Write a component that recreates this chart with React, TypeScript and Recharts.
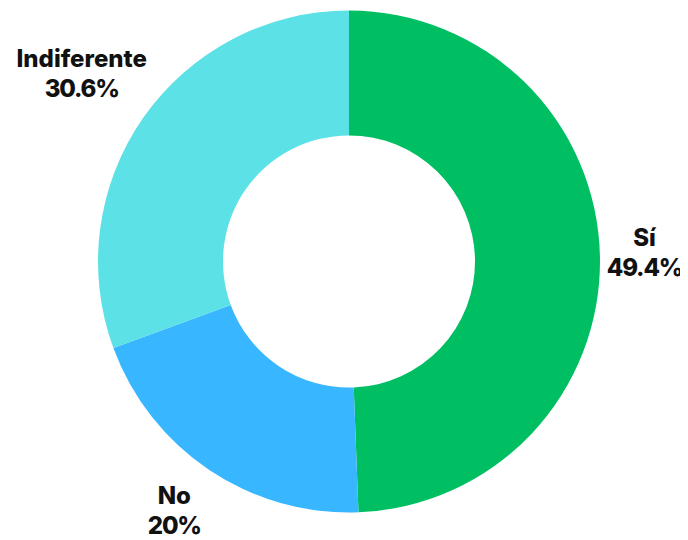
import React from "react";
import { PieChart, Pie, Cell } from "recharts";

const categories = ["Sí", "No", "Indiferente"];
const values = [49.4, 20, 30.6];
const colors = ["#00BF63", "#38B6FF", "#5CE1E6"];

const data = categories.map((name, i) => ({ name, value: values[i] }));

const FONT_SIZE = 24;
const LINE_GAP = 30;

function charW(c: string): number {
  if (/[0-9]/.test(c)) return 0.58;
  if (c === "%") return 0.8;
  if (c === ".") return 0.26;
  if (/[iIlí]/.test(c)) return 0.3;
  if (/[ftr]/.test(c)) return 0.4;
  if (/[S]/.test(c)) return 0.64;
  if (/[N]/.test(c)) return 0.74;
  return 0.61;
}
function textW(s: string): number {
  let w = 0;
  for (const c of s) w += charW(c);
  return w * FONT_SIZE;
}

const RADIAN = Math.PI / 180;

const renderLabel = (props: any) => {
  const { cx, cy, midAngle, outerRadius, name, value } = props;
  const pct = `${Number(value).toString()}%`;
  const w = Math.max(textW(name), textW(pct));
  const a = w / 2;
  const b = 29;
  const cos = Math.cos(-midAngle * RADIAN);
  const sin = Math.sin(-midAngle * RADIAN);
  const R = outerRadius + 17;
  const px = cx + R * cos;
  const py = cy + R * sin;
  const t = Math.min(
    Math.abs(cos) > 1e-6 ? a / Math.abs(cos) : Infinity,
    Math.abs(sin) > 1e-6 ? b / Math.abs(sin) : Infinity
  );
  const x = px + t * cos - 6;
  const y = py + t * sin - 3 - Math.max(0, -sin) * 5;
  return (
    <text
      x={x}
      y={y}
      textAnchor="middle"
      fill="#111"
      fontFamily="Inter, sans-serif"
      fontWeight={800}
      fontSize={FONT_SIZE}
    >
      <tspan x={x} y={y - LINE_GAP / 2} dominantBaseline="central">
        {name}
      </tspan>
      <tspan
        x={x}
        y={y + LINE_GAP / 2}
        dominantBaseline="central"
        letterSpacing={-1.2}
      >
        {pct}
      </tspan>
    </text>
  );
};

export default function App() {
  return (
    <PieChart
      width={680}
      height={532}
      margin={{ top: 0, right: 0, bottom: 0, left: 0 }}
    >
      <Pie
        data={data}
        dataKey="value"
        nameKey="name"
        cx={341}
        cy={253.5}
        innerRadius={126}
        outerRadius={251}
        startAngle={90}
        endAngle={-270}
        stroke="none"
        label={renderLabel}
        labelLine={false}
        isAnimationActive={false}
      >
        {data.map((d, i) => (
          <Cell key={d.name} fill={colors[i]} />
        ))}
      </Pie>
    </PieChart>
  );
}
